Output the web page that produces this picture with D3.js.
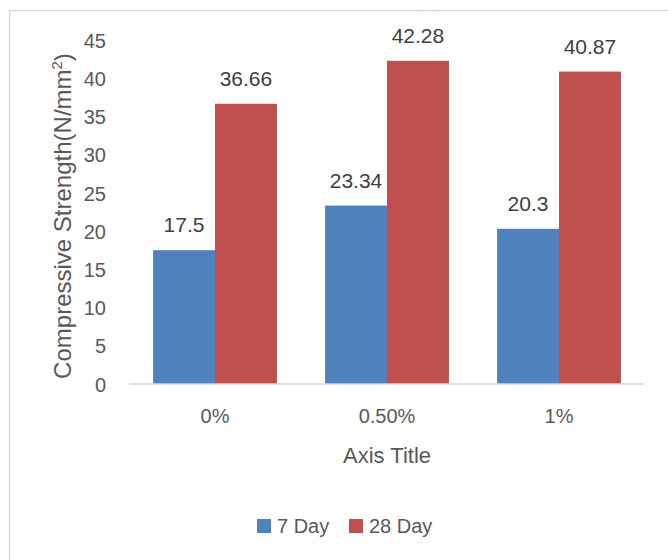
<!DOCTYPE html>
<html>
<head>
<meta charset="utf-8">
<script src="https://cdnjs.cloudflare.com/ajax/libs/d3/7.8.5/d3.min.js"></script>
<style>
  html, body { margin: 0; padding: 0; background: #fff; }
  svg { display: block; font-family: "Liberation Sans", Arial, sans-serif; }
</style>
</head>
<body>
<svg id="chart" width="668" height="560"></svg>
<script>
const categories = ["0%", "0.50%", "1%"];
const seriesNames = ["7 Day", "28 Day"];
const day7 = [17.5, 23.34, 20.3];
const day28 = [36.66, 42.28, 40.87];
const yTicks = [0, 5, 10, 15, 20, 25, 30, 35, 40, 45];
const colors = ["#4F81BD", "#C0504D"];

const seriesValues = [day7, day28];
const data = categories.map((c, i) => ({
  cat: c,
  vals: seriesNames.map((s, j) => ({ series: s, idx: j, value: seriesValues[j][i] }))
}));

const svg = d3.select("#chart");
const textColor = "#595959";

// outer border (chart area)
svg.append("rect")
  .attr("x", 9.5).attr("y", 10.5)
  .attr("width", 700).attr("height", 600)
  .attr("fill", "none").attr("stroke", "#D9D9D9").attr("stroke-width", 1.5);

const plot = { left: 129, right: 645, top: 40, bottom: 384 };

const x = d3.scaleBand().domain(categories).range([plot.left, plot.right]).paddingInner(0.28).paddingOuter(0.14);
const x1 = d3.scaleBand().domain(seriesNames).range([0, x.bandwidth()]);
const y = d3.scaleLinear().domain([0, 45]).range([plot.bottom, plot.top]);

// y axis labels
const yAxis = d3.axisLeft(y).tickValues(yTicks).tickSize(0).tickPadding(0);
const gy = svg.append("g").attr("transform", `translate(106,0)`).call(yAxis);
gy.select(".domain").remove();
gy.selectAll("text").attr("fill", textColor).attr("font-size", 20)
  .attr("font-family", "Liberation Sans, Arial, sans-serif").attr("dy", "0.36em");

// bars
const groups = svg.append("g").selectAll("g").data(data).join("g")
  .attr("transform", d => `translate(${x(d.cat)},0)`);
groups.selectAll("rect").data(d => d.vals).join("rect")
  .attr("x", d => x1(d.series))
  .attr("y", d => y(d.value))
  .attr("width", x1.bandwidth())
  .attr("height", d => y(0) - y(d.value))
  .attr("fill", d => colors[d.idx]);

// data labels
groups.selectAll("text").data(d => d.vals).join("text")
  .attr("x", d => x1(d.series) + x1.bandwidth() / 2)
  .attr("y", d => y(d.value) - 18)
  .attr("text-anchor", "middle")
  .attr("font-size", 21)
  .attr("fill", "#404040")
  .text(d => d.value);

// x axis
const xAxis = d3.axisBottom(x).tickSize(0).tickPadding(0);
const gx = svg.append("g").attr("transform", `translate(0,${plot.bottom})`).call(xAxis);
gx.select(".domain").attr("stroke", "#D9D9D9").attr("stroke-width", 1.5)
  .attr("d", `M${plot.left},0H${plot.right}`);
gx.selectAll("text").attr("fill", textColor).attr("font-size", 20)
  .attr("font-family", "Liberation Sans, Arial, sans-serif").attr("dy", "0").attr("y", 39);

// axis titles
svg.append("text")
  .attr("x", (plot.left + plot.right) / 2).attr("y", 463)
  .attr("text-anchor", "middle").attr("font-size", 22).attr("fill", textColor)
  .text("Axis Title");

const yt = svg.append("text")
  .attr("transform", `translate(71,216) rotate(-90)`)
  .attr("text-anchor", "middle").attr("font-size", 24).attr("fill", textColor);
yt.append("tspan").text("Compressive Strength(N/mm");
yt.append("tspan").attr("font-size", 15).attr("dy", -9).text("2");
yt.append("tspan").attr("dy", 9).text(")");

// legend
const legendItems = [
  { name: seriesNames[0], color: colors[0], x: 257 },
  { name: seriesNames[1], color: colors[1], x: 349 }
];
const lg = svg.append("g").selectAll("g").data(legendItems).join("g")
  .attr("transform", d => `translate(${d.x},519)`);
lg.append("rect").attr("width", 14).attr("height", 14).attr("fill", d => d.color);
lg.append("text").attr("x", 20).attr("y", 14).attr("font-size", 20).attr("fill", textColor)
  .text(d => d.name);
</script>
</body>
</html>
